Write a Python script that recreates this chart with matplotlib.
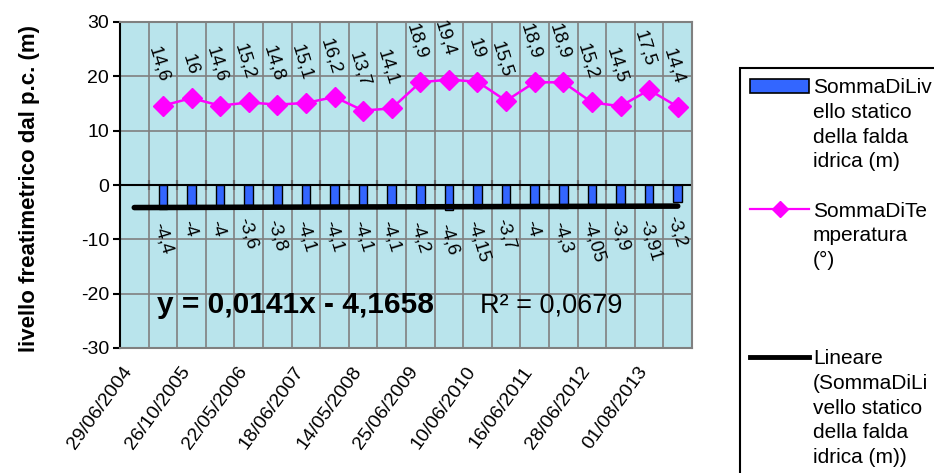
import numpy as np
import matplotlib
matplotlib.use("Agg")
import matplotlib.pyplot as plt
import matplotlib.transforms as mtransforms
from matplotlib.lines import Line2D
from matplotlib.patches import Patch

plt.rcParams['font.family'] = ['Liberation Sans', 'DejaVu Sans']
plt.rcParams['axes.unicode_minus'] = False

# ---------------- data ----------------
date_labels = ['29/06/2004', '26/10/2005', '22/05/2006', '18/06/2007', '14/05/2008',
               '25/06/2009', '10/06/2010', '16/06/2011', '28/06/2012', '01/08/2013']
n_categories = 20
level = [np.nan, -4.4, -4, -4, -3.6, -3.8, -4.1, -4.1, -4.1, -4.1, -4.2, -4.6,
         -4.15, -3.7, -4, -4.3, -4.05, -3.9, -3.91, -3.2]
temperature = [np.nan, 14.6, 16, 14.6, 15.2, 14.8, 15.1, 16.2, 13.7, 14.1, 18.9,
               19.4, 19, 15.5, 18.9, 18.9, 15.2, 14.5, 17.5, 14.4]
y_label = 'livello freatimetrico dal p.c. (m)'
eq_text = 'y = 0,0141x - 4,1658'
r2_text = 'R² = 0,0679'

level = np.array(level, dtype=float)
temperature = np.array(temperature, dtype=float)
x = np.arange(n_categories)

def fmt(v):
    return f"{v:g}".replace('.', ',')

# ---------------- figure ----------------
W, H = 934, 473
fig = plt.figure(figsize=(W / 100, H / 100), dpi=100)
ax = fig.add_axes([120 / W, 1 - 348 / H, (692 - 120) / W, (348 - 22) / H])
ax.set_facecolor('#B9E4EC')
ax.set_xlim(-0.5, n_categories - 0.5)
ax.set_ylim(-30, 30)

# grid
ax.set_yticks(np.arange(-30, 31, 10))
ax.yaxis.grid(True, color='#808080', lw=1.2)
ax.set_xticks(np.arange(-0.5, n_categories, 1), minor=True)
ax.xaxis.grid(True, which='minor', color='#808080', lw=1.2)
ax.set_axisbelow(True)
ax.tick_params(axis='x', which='minor', length=0)

# category labels (every other category)
ax.set_xticks(x[::2])
ax.set_xticklabels(date_labels, rotation=54, ha='right', va='top',
                   rotation_mode='anchor', fontsize=14)
ax.tick_params(axis='x', which='major', length=0, pad=11)
shift = mtransforms.ScaledTranslation(-12 / 100, 0, fig.dpi_scale_trans)
for lab in ax.get_xticklabels():
    lab.set_transform(lab.get_transform() + shift)
ax.tick_params(axis='y', direction='out', length=5, width=1.5, labelsize=14, pad=3)

for s in ['top', 'right', 'bottom']:
    ax.spines[s].set_color('#808080')
    ax.spines[s].set_linewidth(1.5)
ax.spines['left'].set_color('black')
ax.spines['left'].set_linewidth(1.5)

# zero axis with crossing ticks
ax.axhline(0, color='black', lw=1.5, zorder=2)
sec = ax.secondary_xaxis(0.5)
sec.set_xticks(np.arange(-0.5, n_categories, 1))
sec.tick_params(direction='inout', length=7, width=1.5, labelbottom=False, labeltop=False)
sec.spines['bottom'].set_visible(False)
sec.spines['top'].set_visible(False)

# bars
ax.bar(x, level, width=0.3, color='#3366FF', edgecolor='black', lw=1, zorder=3)

# temperature line
ax.plot(x, temperature, color='#FF00FF', lw=1.8, marker='D', ms=10, zorder=4)

# linear trend (Excel x = 1..n)
valid = ~np.isnan(level)
coef = np.polyfit(x[valid] + 1, level[valid], 1)
ax.plot(x, np.polyval(coef, x + 1), color='black', lw=4, solid_capstyle='round', zorder=5)

# data labels
for i in x[~np.isnan(temperature)]:
    ax.annotate(fmt(temperature[i]), (x[i], temperature[i]), xytext=(1, 17),
                textcoords='offset points', rotation=-73, rotation_mode='anchor',
                ha='right', va='center', fontsize=13.5, zorder=6)
for i in x[valid]:
    ax.annotate(fmt(level[i]), (x[i], level[i]), xytext=(-4, -10),
                textcoords='offset points', rotation=-73, rotation_mode='anchor',
                ha='left', va='center', fontsize=13.5, zorder=6)

# trendline equation
ax.text(0.79, -22.1, eq_text, fontsize=21.5, fontweight='bold', ha='left', va='center', zorder=6)
ax.text(12.1, -22.1, r2_text, fontsize=19.5, ha='left', va='center', zorder=6)

fig.text(30 / W, 1 - 188 / H, y_label, rotation=90, fontsize=16, fontweight='bold',
         ha='center', va='center')

# legend (one line per entry so that handles sit on the first line)
blank = Line2D([], [], linestyle='none')
handles = [Patch(facecolor='#3366FF', edgecolor='black', lw=1.2), blank, blank, blank, blank,
           Line2D([], [], color='#FF00FF', lw=1.6, marker='D', ms=8), blank, blank, blank, blank, blank,
           Line2D([], [], color='black', lw=3.5), blank, blank, blank, blank, blank]
labels = ['SommaDiLiv', 'ello statico', 'della falda', 'idrica (m)', ' ',
          'SommaDiTe', 'mperatura', '(°)', ' ', ' ', ' ',
          'Lineare', '(SommaDiLi', 'vello statico', 'della falda', 'idrica (m))', ' ']
leg = ax.legend(handles, labels, loc='upper left', bbox_to_anchor=(740 / W, 1 - 68 / H),
                bbox_transform=fig.transFigure, fontsize=15, frameon=True, fancybox=False,
                edgecolor='black', framealpha=1, labelspacing=0.27, handlelength=2.8,
                handletextpad=0.2, borderpad=0.5, borderaxespad=0)
leg.get_frame().set_linewidth(1.5)

fig.savefig('out.png', dpi=100)
